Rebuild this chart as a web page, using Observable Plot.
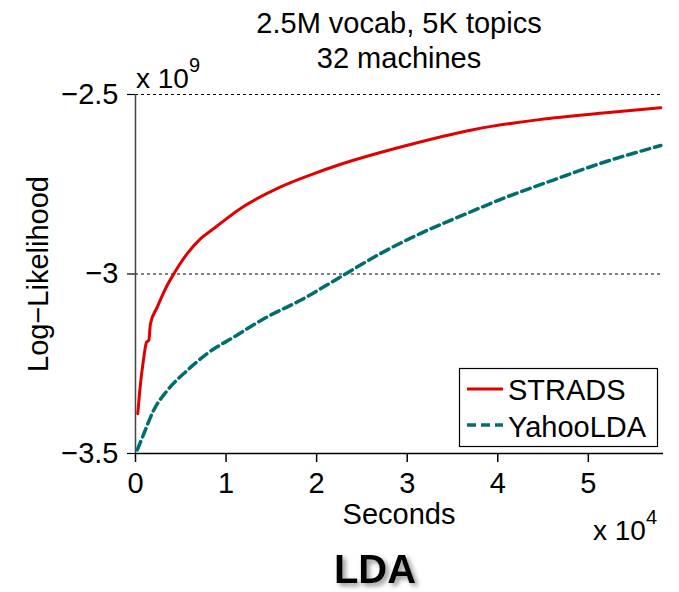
<!DOCTYPE html>
<html>
<head>
<meta charset="utf-8">
<script src="https://cdn.jsdelivr.net/npm/d3@7"></script>
<script src="https://cdn.jsdelivr.net/npm/@observablehq/plot@0.6"></script>
<style>
  html, body { margin: 0; padding: 0; background: white; }
  #chart { width: 679px; height: 592px; }
</style>
</head>
<body>
<div id="chart"></div>
<script>
// Seconds in units of 1e4, log-likelihood in units of 1e9
const stradsSeconds = [0.025, 0.047, 0.092, 0.121, 0.147, 0.165, 0.239, 0.349, 0.422, 0.569, 0.716, 0.862, 1.156, 1.597, 1.964, 2.258, 2.992, 3.727, 4.46, 5.195, 5.8];
const stradsLL      = [-3.389, -3.325, -3.232, -3.19, -3.185, -3.139, -3.093, -3.032, -3.0, -2.944, -2.902, -2.874, -2.818, -2.758, -2.721, -2.695, -2.642, -2.598, -2.570, -2.551, -2.537];
const yahooSeconds  = [0.02, 0.092, 0.2, 0.349, 0.569, 0.789, 1.083, 1.45, 1.817, 2.258, 2.698, 3.139, 3.653, 4.093, 4.607, 5.121, 5.8];
const yahooLL       = [-3.49, -3.445, -3.38, -3.325, -3.269, -3.222, -3.176, -3.12, -3.074, -3.009, -2.944, -2.888, -2.832, -2.786, -2.739, -2.693, -2.642];
const xTicks = [0, 1, 2, 3, 4, 5];
const yTicks = [-3.5, -3, -2.5];
const gridValues = [-3, -2.5];
const seriesNames = ["STRADS", "YahooLDA"];
const titleLines = ["2.5M vocab, 5K topics", "32 machines"];

const FONT = '"Liberation Sans", Arial, Helvetica, sans-serif';
const RED = "#e00000";
const TEAL = "#006e6e";

const strads = stradsSeconds.map((x, i) => ({x, y: stradsLL[i]}));
const yahoo = yahooSeconds.map((x, i) => ({x, y: yahooLL[i]}));

const svg = Plot.plot({
  width: 679,
  height: 592,
  marginTop: 94,
  marginBottom: 139,
  marginLeft: 135,
  marginRight: 16,
  x: {domain: [0, 5.83]},
  y: {domain: [-3.5, -2.5]},
  style: {fontFamily: FONT, fontSize: "29px", color: "black", background: "white", overflow: "visible"},
  marks: [
    Plot.ruleY(gridValues, {stroke: "black", strokeWidth: 1, strokeDasharray: "3,3"}),
    Plot.axisX({ticks: xTicks, tickSize: 9, tickPadding: 10, tickFormat: d => String(d), label: null, fontSize: 29, strokeWidth: 1.5}),
    Plot.axisY({ticks: yTicks, tickSize: 8, tickPadding: 9, tickFormat: d => String(d).replace("-", "\u2212"), label: null, fontSize: 29, strokeWidth: 1.2}),
    Plot.ruleX([0], {stroke: "#444", strokeWidth: 1.5}),
    Plot.ruleY([-3.5], {stroke: "black", strokeWidth: 1.5}),
    Plot.line(yahoo, {x: "x", y: "y", stroke: TEAL, strokeWidth: 3.5, strokeDasharray: "9,5", curve: "monotone-x"}),
    Plot.line(strads, {x: "x", y: "y", stroke: RED, strokeWidth: 3, curve: "monotone-x"})
  ]
});
document.getElementById("chart").appendChild(svg);

const s = d3.select(svg);
const txt = (x, y, anchor, size, weight) => s.append("text")
  .attr("x", x).attr("y", y)
  .attr("text-anchor", anchor)
  .attr("font-family", FONT)
  .attr("font-size", size)
  .attr("font-weight", weight || "normal")
  .attr("fill", "black");

// Title
txt(399, 33, "middle", 29).text(titleLines[0]);
txt(399, 68, "middle", 29).text(titleLines[1]);

// Exponent labels
const e9 = txt(136, 88, "start", 28);
e9.append("tspan").text("x 10");
e9.append("tspan").attr("dy", -16).attr("font-size", 20).text("9");
const e4 = txt(593, 540, "start", 28);
e4.append("tspan").text("x 10");
e4.append("tspan").attr("dy", -16).attr("font-size", 20).text("4");

// Axis labels
txt(399, 524, "middle", 29).text("Seconds");
txt(0, 0, "middle", 29)
  .attr("transform", "translate(48,274) rotate(-90)")
  .text("Log\u2212Likelihood");

// Legend
const lg = s.append("g");
lg.append("rect").attr("x", 459.5).attr("y", 368.5).attr("width", 198).attr("height", 78)
  .attr("fill", "white").attr("stroke", "black").attr("stroke-width", 1.2);
lg.append("line").attr("x1", 467).attr("x2", 503).attr("y1", 389).attr("y2", 389)
  .attr("stroke", RED).attr("stroke-width", 3);
lg.append("line").attr("x1", 467).attr("x2", 503).attr("y1", 425).attr("y2", 425)
  .attr("stroke", TEAL).attr("stroke-width", 3.5).attr("stroke-dasharray", "9,5");
txt(508, 400, "start", 29).text(seriesNames[0]);
txt(508, 437, "start", 29).text(seriesNames[1]);

// Bottom "LDA" with shadow
const defs = s.append("defs");
const f = defs.append("filter").attr("id", "shadow").attr("x", "-20%").attr("y", "-20%").attr("width", "150%").attr("height", "160%");
f.append("feDropShadow").attr("dx", 3).attr("dy", 3).attr("stdDeviation", 2.5).attr("flood-color", "#777").attr("flood-opacity", 0.8);
txt(375, 583, "middle", 40, "bold").attr("filter", "url(#shadow)").text("LDA");
</script>
</body>
</html>
